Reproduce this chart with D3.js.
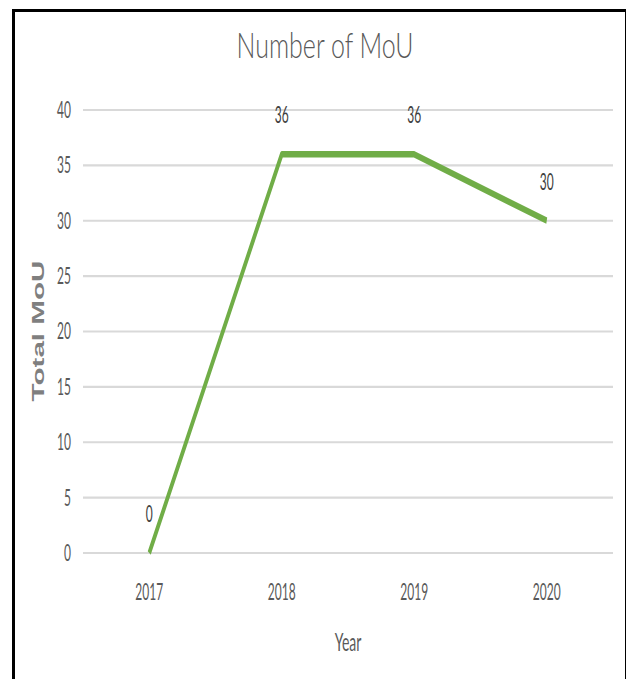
<!DOCTYPE html>
<html>
<head>
<meta charset="utf-8">
<script src="https://cdn.jsdelivr.net/npm/d3@7"></script>
<style>
  body { margin: 0; background: #fff; }
  #wrap { position: relative; width: 626px; height: 679px; overflow: hidden; }
  #frame { position: absolute; left: 12px; top: 9px; width: 610px; height: 700px; border: 3px solid #000; }
  svg { position: absolute; left: 0; top: 0; }
</style>
</head>
<body>
<div id="wrap"><div id="frame"></div></div>
<script>
// data
var years = ["2017", "2018", "2019", "2020"];
var mou = [0, 36, 36, 30];
var yTicks = [0, 5, 10, 15, 20, 25, 30, 35, 40];

// the reference is stretched vertically, so draw in a squashed space and stretch it back
var W = 626, H = 679;
var s = 1.85;
var h = H / s;

var svg = d3.select("#wrap").append("svg")
  .attr("width", W)
  .attr("height", H)
  .attr("viewBox", "0 0 " + W + " " + h)
  .attr("preserveAspectRatio", "none")
  .style("font-family", "Lato, 'Open Sans', sans-serif");

var x = d3.scaleBand()
  .domain(years)
  .range([83, 613]);

var y = d3.scaleLinear()
  .domain([0, 40])
  .range([553 / s, 110 / s]);

// gridlines
svg.append("g").selectAll("line").data(yTicks)
  .enter().append("line")
  .attr("x1", 83).attr("x2", 613)
  .attr("y1", function(d) { return y(d); })
  .attr("y2", function(d) { return y(d); })
  .style("stroke", "#d9d9d9")
  .style("stroke-width", 1.1);

// y tick labels
svg.append("g").selectAll("text").data(yTicks)
  .enter().append("text")
  .attr("x", 71)
  .attr("y", function(d) { return y(d) + 4.3; })
  .attr("text-anchor", "end")
  .style("font-size", "12px")
  .style("fill", "#595959")
  .text(function(d) { return d; });

// x tick labels
svg.append("g").selectAll("text").data(years)
  .enter().append("text")
  .attr("x", function(d) { return x(d) + x.bandwidth() / 2; })
  .attr("y", 600 / s)
  .attr("text-anchor", "middle")
  .style("font-size", "12px")
  .style("fill", "#595959")
  .text(function(d) { return d; });

// line
var valueLine = d3.line()
  .x(function(d, i) { return x(years[i]) + x.bandwidth() / 2; })
  .y(function(d) { return y(d); });

svg.append("path")
  .attr("d", valueLine(mou))
  .style("fill", "none")
  .style("stroke", "#70ad47")
  .style("stroke-width", 3.5)
  .style("stroke-linejoin", "round");

// data labels
svg.append("g").selectAll("text").data(mou)
  .enter().append("text")
  .attr("x", function(d, i) { return x(years[i]) + x.bandwidth() / 2; })
  .attr("y", function(d) { return y(d) - 31 / s; })
  .attr("text-anchor", "middle")
  .style("font-size", "12px")
  .style("fill", "#404040")
  .text(function(d) { return d; });

// title
svg.append("text")
  .attr("transform", "translate(325," + (58 / s) + ") scale(1,0.78)")
  .attr("text-anchor", "middle")
  .style("font-size", "25px")
  .style("font-weight", 300)
  .style("fill", "#595959")
  .text("Number of MoU");

// x axis title
svg.append("text")
  .attr("x", 348)
  .attr("y", 651 / s)
  .attr("text-anchor", "middle")
  .style("font-size", "14px")
  .style("fill", "#595959")
  .text("Year");

// y axis title
svg.append("text")
  .attr("transform", "translate(44," + (331 / s) + ") rotate(-90)")
  .attr("text-anchor", "middle")
  .style("font-family", "'Liberation Sans', Arial, sans-serif")
  .style("font-size", "16px")
  .style("font-weight", "bold")
  .style("fill", "#7f7f7f")
  .text("Total MoU");
</script>
</body>
</html>
